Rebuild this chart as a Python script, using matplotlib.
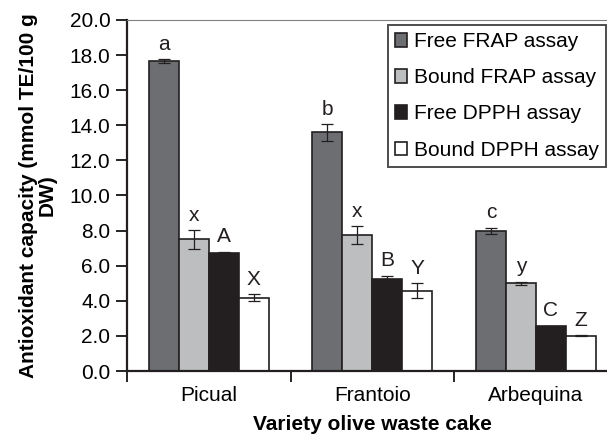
import numpy as np
import matplotlib
matplotlib.use("Agg")
from matplotlib import pyplot as plt

plt.rcParams["font.family"] = ["Liberation Sans", "DejaVu Sans"]

varieties = ["Picual", "Frantoio", "Arbequina"]
assays = ["Free FRAP assay", "Bound FRAP assay", "Free DPPH assay", "Bound DPPH assay"]
values = [
    [17.65, 13.6, 8.0],   # Free FRAP
    [7.5, 7.75, 5.0],     # Bound FRAP
    [6.72, 5.22, 2.56],   # Free DPPH
    [4.18, 4.58, 2.0],    # Bound DPPH
]
errors = [
    [0.1, 0.47, 0.17],
    [0.52, 0.5, 0.08],
    [0.06, 0.2, 0.03],
    [0.2, 0.43, 0.03],
]
letters = [
    ["a", "b", "c"],
    ["x", "x", "y"],
    ["A", "B", "C"],
    ["X", "Y", "Z"],
]
colors = ["#6d6e71", "#bcbec0", "#231f20", "#ffffff"]
yticks = np.arange(0, 20.1, 2.0)

fig = plt.figure(figsize=(6.07, 4.36), dpi=100)
ax = fig.add_axes([127 / 607, 65 / 436, 490.5 / 607, 351 / 436])

centers = np.arange(len(varieties)) + 0.5
width = 0.183
for i, (vals, errs, labs) in enumerate(zip(values, errors, letters)):
    xs = centers + (i - 1.5) * width
    ax.bar(xs, vals, width=width, color=colors[i], edgecolor="#231f20",
           linewidth=1.2, label=assays[i], zorder=2)
    ax.errorbar(xs, vals, yerr=errs, fmt="none", ecolor="#231f20",
                elinewidth=0.9, capsize=4.5, capthick=0.9, zorder=3)
    for x, v, e, t in zip(xs, vals, errs, labs):
        ax.annotate(t, (x, v + e), xytext=(0, 4), textcoords="offset points",
                    ha="center", va="bottom", fontsize=15, color="#231f20")

ax.set_xlim(0, 3)
ax.set_ylim(0, 20)
ax.set_yticks(yticks)
ax.set_yticklabels([f"{t:.1f}" for t in yticks])
ax.set_xticks(centers)
ax.set_xticklabels(varieties)
ax.set_xticks([0, 1, 2, 3], minor=True)
ax.tick_params(axis="x", which="major", length=0, pad=11, labelsize=15)
ax.tick_params(axis="x", which="minor", length=8, width=1.2, direction="out")
ax.tick_params(axis="y", length=8, width=1.2, pad=4, labelsize=15)

for side in ["left", "bottom"]:
    ax.spines[side].set_linewidth(1.6)
    ax.spines[side].set_color("#231f20")
ax.spines["top"].set_linewidth(0.8)
ax.spines["top"].set_color("#808080")
ax.spines["right"].set_visible(False)

ax.set_xlabel("Variety olive waste cake", fontsize=15, fontweight="bold", labelpad=7)
ax.set_ylabel("Antioxidant capacity (mmol TE/100 g\nDW)", fontsize=15,
              fontweight="bold", labelpad=9, linespacing=1.0)

leg = ax.legend(loc="upper right", bbox_to_anchor=(606 / 607, 411 / 436),
                bbox_transform=fig.transFigure, fontsize=15, frameon=True,
                fancybox=False, handlelength=0.6, handleheight=0.6,
                handletextpad=0.3, labelspacing=0.82, borderpad=0.35,
                borderaxespad=0)
leg.get_frame().set_edgecolor("#231f20")
leg.get_frame().set_linewidth(1.4)

fig.savefig("out.png", dpi=100)
